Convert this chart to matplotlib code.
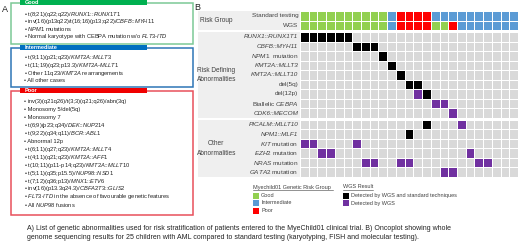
import numpy as np
import matplotlib.pyplot as plt
from matplotlib.colors import ListedColormap
from matplotlib.patches import Rectangle

plt.rcParams['font.family'] = ['Liberation Sans', 'DejaVu Sans']
plt.rcParams['mathtext.fontset'] = 'custom'
plt.rcParams['mathtext.rm'] = 'Liberation Sans'
plt.rcParams['mathtext.it'] = 'Liberation Sans:italic'

# ---------------- panel A: risk group lists ----------------
good_items = [r't(8;21)(q22;q22)/$\mathit{RUNX1}$::$\mathit{RUNX1T1}$',
              r'inv(16)(p13q22)/t(16;16)(p13;q22)/$\mathit{CBFB}$::$\mathit{MYH11}$',
              r'$\mathit{NPM1}$ mutations',
              r'Normal karyotype with CEBPA mutation w/o $\mathit{FLT3}$-$\mathit{ITD}$']
intermediate_items = [r't(9;11)(p21;q23)/$\mathit{KMT2A}$::$\mathit{MLLT3}$',
                      r't(11;19)(q23;p13.3)/$\mathit{KMT2A}$-$\mathit{MLLT1}$',
                      r'Other 11q23/$\mathit{KMT2A}$ rearrangements',
                      'All other cases']
poor_items = ['inv(3)(q21q26)/t(3;3)(q21;q26)/abn(3q)',
              'Monosomy 5/del(5q)',
              'Monosomy 7',
              r't(6;9)(p23;q34)/$\mathit{DEK}$::$\mathit{NUP214}$',
              r't(9;22)(q34;q11)/$\mathit{BCR}$::$\mathit{ABL1}$',
              'Abnormal 12p',
              r't(6;11)(q27;q23)/$\mathit{KMT2A}$::$\mathit{MLLT4}$',
              r't(4;11)(q21;q23)/$\mathit{KMT2A}$::$\mathit{AFF1}$',
              r't(10;11)(p11-p14;q23)/$\mathit{KMT2A}$::$\mathit{MLLT10}$',
              r't(5;11)(q35;p15.5)/$\mathit{NUP98}$::$\mathit{NSD1}$',
              r't(7;12)(q36;p13)/$\mathit{MNX1}$::$\mathit{ETV6}$',
              r'inv(16)(p13.3q24.3)/$\mathit{CBFA2T3}$::$\mathit{GLIS2}$',
              r'$\mathit{FLT3}$-$\mathit{ITD}$ in the absence of favourable genetic features',
              r'All $\mathit{NUP98}$ fusions']

# ---------------- panel B: oncoplot ----------------
# G good, I intermediate, P poor
standard_testing = 'GGGGGGGGGGIPPPPIIIIIIIIII'
wgs_group        = 'GGGGGGGGGGIPPPPGGPIIIIIII'

# B detected by WGS and standard techniques, W detected by WGS only
risk_labels = [r'RUNX1::RUNX1T1', r'CBFB::MYH11', r'$\mathit{NPM1}$  mutation',
               r'KMT2A::MLLT3', r'KMT2A::MLLT10', 'del(5q)', 'del(12p)',
               r'Biallelic $\mathit{CEBPA}$', r'CDK6::MECOM']
risk_calls = ['BBBBBB...................',
              '......BBB................',
              '.........B...............',
              '..........B..............',
              '...........B.............',
              '............BB...........',
              '.............WB..........',
              '...............WW........',
              '.................W.......']
other_labels = [r'PICALM::MLLT10', r'NPM1::MLF1', r'$\mathit{KIT}$ mutation',
                r'$\mathit{EZH2}$ mutation', r'$\mathit{NRAS}$ mutation',
                r'$\mathit{GATA2}$ mutation']
other_calls = ['..............B...W......',
               '............B............',
               'WW....W..................',
               '..WW...............W.....',
               '.......WW..WW.......WW...',
               '................WW.......']

code = {'.': 0, 'B': 1, 'W': 2, 'G': 3, 'I': 4, 'P': 5}
cmap = ListedColormap(['#d9d9d9', '#000000', '#7030a0', '#92d050', '#5b9bd5', '#ff0000'])

fig = plt.figure(figsize=(5.2, 2.48), dpi=100)

# full-figure axes in pixel units for panel A, legend, caption
axA = fig.add_axes([0, 0, 1, 1])
axA.set_xlim(0, 520)
axA.set_ylim(248, 0)
axA.axis('off')

axA.text(2, 9, 'A', fontsize=6.5, va='center', color='#222222')
axA.text(194, 7, 'B', fontsize=6.5, va='center', color='#222222')

boxes = [('Good', good_items, 2.5, 44, '#7cc996', '#00b050'),
         ('Intermediate', intermediate_items, 47.5, 87, '#2e75b6', '#0070c0'),
         ('Poor', poor_items, 90.5, 215, '#e8505b', '#f00000')]
for name, items, top, bottom, edge, head in boxes:
    axA.add_patch(Rectangle((10.5, top), 182, bottom - top, fill=False,
                            edgecolor=edge, lw=1.1))
    axA.add_patch(Rectangle((20, top - 2.5), 127, 5, facecolor=head, edgecolor='none'))
    axA.text(25, top, name, fontsize=4, color='white', fontweight='bold', va='center')
    if name == 'Poor':
        y0, dy = 101.5, 7.95
    elif name == 'Good':
        y0, dy = 14.3, 7.5
    else:
        y0, dy = 57, 8
    for i, item in enumerate(items):
        axA.text(24, y0 + i * dy, '\u2022 ' + item, fontsize=4.15, va='center',
                 color='#222222')

# oncoplot axes
cell_w = (518 - 300) / 25
label_w = (300 - 198) / cell_w
axB = fig.add_axes([198 / 520, (248 - 177) / 248, (518 - 198) / 520, 166 / 248])

groups = [('Risk Group', ['Standard testing', 'WGS'], [standard_testing, wgs_group]),
          ('Risk Defining\nAbnormalities', risk_labels, risk_calls),
          ('Other\nAbnormalities', other_labels, other_calls)]
gap = 0.21
rows, edges, labels, centers = [], [0.0], [], []
band_spans = []
for gi, (gname, glabels, gcalls) in enumerate(groups):
    start = edges[-1]
    for lab, calls in zip(glabels, gcalls):
        rows.append([code[c] for c in calls])
        labels.append(lab)
        centers.append(edges[-1] + 0.5)
        edges.append(edges[-1] + 1)
    band_spans.append((gname, start, edges[-1]))
    if gi < len(groups) - 1:
        rows.append([np.nan] * 25)
        edges.append(edges[-1] + gap)

mat = np.ma.masked_invalid(np.array(rows, dtype=float))
axB.pcolormesh(np.arange(26), np.array(edges), mat, cmap=cmap, vmin=-0.5, vmax=5.5,
               edgecolors='white', linewidth=0.45)

for gname, y0, y1 in band_spans:
    axB.add_patch(Rectangle((-label_w, y0), label_w, y1 - y0,
                            facecolor='#efefef', edgecolor='none'))
    axB.text(-9.6, (y0 + y1) / 2, gname, ha='center', va='center', fontsize=4.7,
             color='#404040', linespacing=1.5)

for lab, yc in zip(labels, centers):
    italic = '$' not in lab and '::' in lab
    axB.text(-0.2, yc, lab, ha='right', va='center', fontsize=4.6, color='#404040',
             style='italic' if italic else 'normal')

axB.set_xlim(-label_w, 25)
axB.set_ylim(edges[-1], 0)
axB.axis('off')

# legend
legend_groups = [(253, 'Myechild01 Genetic Risk Group', 80,
                  [('#92d050', 'Good'), ('#5b9bd5', 'Intermediate'), ('#ff0000', 'Poor')]),
                 (343, 'WGS Result', 30,
                  [('#000000', 'Detected by WGS and standard techniques'),
                   ('#7030a0', 'Detected by WGS')])]
for lx, title, ulen, entries in legend_groups:
    axA.text(lx, 187, title, fontsize=4, va='center', color='#404040')
    axA.plot([lx, lx + ulen], [189.5, 189.5], color='#404040', lw=0.4)
    for i, (col, txt) in enumerate(entries):
        yc = 195.5 + i * 7.5
        axA.add_patch(Rectangle((lx, yc - 3), 6, 6, facecolor=col, edgecolor='none'))
        axA.text(lx + 8, yc, txt, fontsize=4, va='center', color='#404040')

caption = ('A) List of genetic abnormalities used for risk stratification of patients '
           'entered to the MyeChild01 clinical trial. B) Oncoplot showing whole\n'
           'genome sequencing results for 25 children with AML compared to standard '
           'testing (karyotyping, FISH and molecular testing).')
axA.text(27, 233, caption, fontsize=5, va='center', color='#222222', linespacing=1.45)

fig.savefig('out.png', dpi=100)
